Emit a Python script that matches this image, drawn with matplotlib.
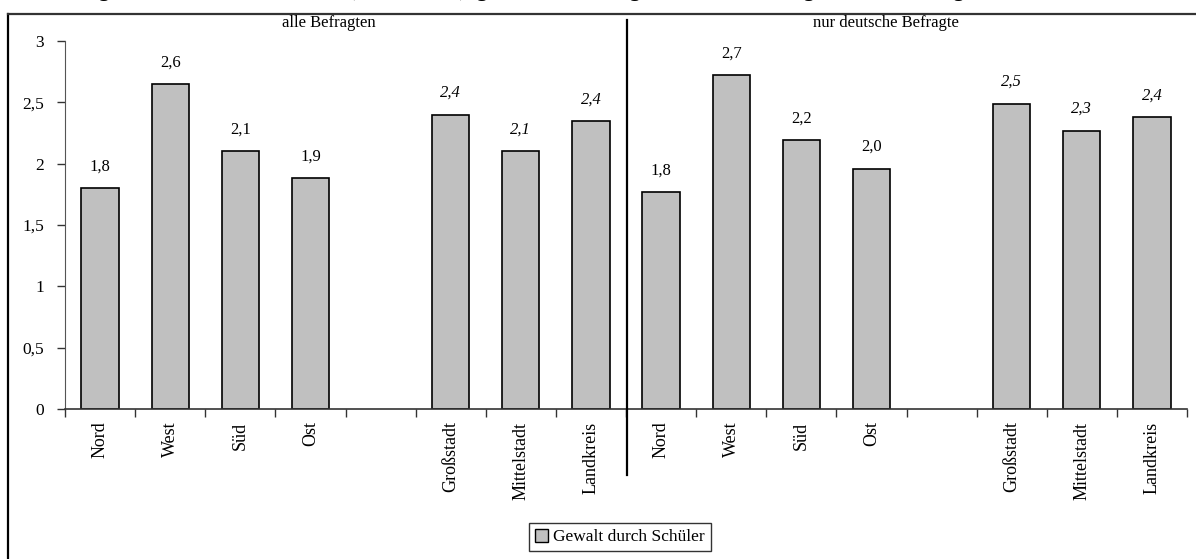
import matplotlib
matplotlib.use("Agg")
import matplotlib.pyplot as plt
from matplotlib.patches import Patch
from matplotlib.lines import Line2D

plt.rcParams['font.family'] = ['Liberation Serif', 'DejaVu Serif']

categories = ["Nord", "West", "Süd", "Ost", "", "Großstadt", "Mittelstadt", "Landkreis",
              "Nord", "West", "Süd", "Ost", "", "Großstadt", "Mittelstadt", "Landkreis"]
values = [1.80, 2.65, 2.10, 1.88, None, 2.40, 2.10, 2.35,
          1.77, 2.72, 2.19, 1.96, None, 2.49, 2.27, 2.38]
value_labels = ["1,8", "2,6", "2,1", "1,9", "", "2,4", "2,1", "2,4",
                "1,8", "2,7", "2,2", "2,0", "", "2,5", "2,3", "2,4"]
italic_flags = [False, False, False, False, False, True, True, True,
                False, False, False, False, False, True, True, True]
group_titles = ["alle Befragten", "nur deutsche Befragte"]
series_name = "Gewalt durch Schüler"
yticks = [0, 0.5, 1, 1.5, 2, 2.5, 3]
ytick_labels = ["0", "0,5", "1", "1,5", "2", "2,5", "3"]

fig = plt.figure(figsize=(11.96, 5.59), dpi=100)
W, H = 1196, 559

# outer frame (left and top edges visible)
fig.add_artist(Line2D([8/W, 8/W], [0, 1 - 14/H], color="black", lw=1.6, transform=fig.transFigure))
fig.add_artist(Line2D([8/W, 1], [1 - 14/H, 1 - 14/H], color="#333333", lw=1.6, transform=fig.transFigure))

# title, mostly above the visible page (only its lower edge shows, as in the reference)
fig.text(0.012, 1 + 3.8/H, "Abbildung 14: Gewalt durch Schüler (Mittelwerte), getrennt nach Region und Gemeindegröße; alle Befragten und nur deutsche Befragte (Skala von 0 bis 4, gering bis hoch); Lehrerbefragung",
         fontsize=15, fontweight="bold", va="baseline", ha="left")

ax = fig.add_axes([65/W, 1 - 409/H, (1187 - 65)/W, (409 - 41)/H])
n = len(categories)
xs = list(range(n))
for x, v, lab, it in zip(xs, values, value_labels, italic_flags):
    if v is None:
        continue
    ax.bar(x, v, width=0.53, color="#c0c0c0", edgecolor="black", linewidth=1.2, zorder=2)
    ax.text(x, v + 0.11, lab, ha="center", va="bottom", fontsize=12,
            style="italic" if it else "normal")

ax.set_xlim(-0.5, n - 0.5)
ax.set_ylim(0, 3)
ax.set_yticks(yticks)
ax.set_yticklabels(ytick_labels, fontsize=12.5)
ax.set_xticks([i - 0.5 for i in range(n + 1)])
ax.set_xticklabels([])
ax.set_xticks(xs, minor=True)
ax.set_xticklabels(categories, minor=True, rotation=90, fontsize=13)
ax.tick_params(axis="x", which="minor", length=0, pad=9)
ax.tick_params(axis="x", which="major", length=6, width=1, direction="out", color="#333333")
ax.tick_params(axis="y", length=6, width=1, direction="out", color="#333333", pad=9)
for s in ["top", "right"]:
    ax.spines[s].set_visible(False)
ax.spines["left"].set_color("#555555")
ax.spines["bottom"].set_color("#333333")
ax.spines["bottom"].set_linewidth(1.2)

# separator line between groups
fig.add_artist(Line2D([627/W, 627/W], [1 - 20/H, 1 - 475/H], color="black", lw=1.6, transform=fig.transFigure))

fig.text(329/W, 1 - 23/H, group_titles[0], ha="center", va="center", fontsize=12)
fig.text(886/W, 1 - 23/H, group_titles[1], ha="center", va="center", fontsize=12)

leg = fig.legend(handles=[Patch(facecolor="#c0c0c0", edgecolor="black", label=series_name)],
                 loc="center", bbox_to_anchor=(620/W, 1 - 537/H), fontsize=12.5,
                 frameon=True, fancybox=False, handlelength=0.75, handleheight=0.75,
                 handletextpad=0.3, borderpad=0.35)
leg.get_frame().set_edgecolor("black")
leg.get_frame().set_linewidth(1.0)

fig.savefig("out.png", dpi=100)
